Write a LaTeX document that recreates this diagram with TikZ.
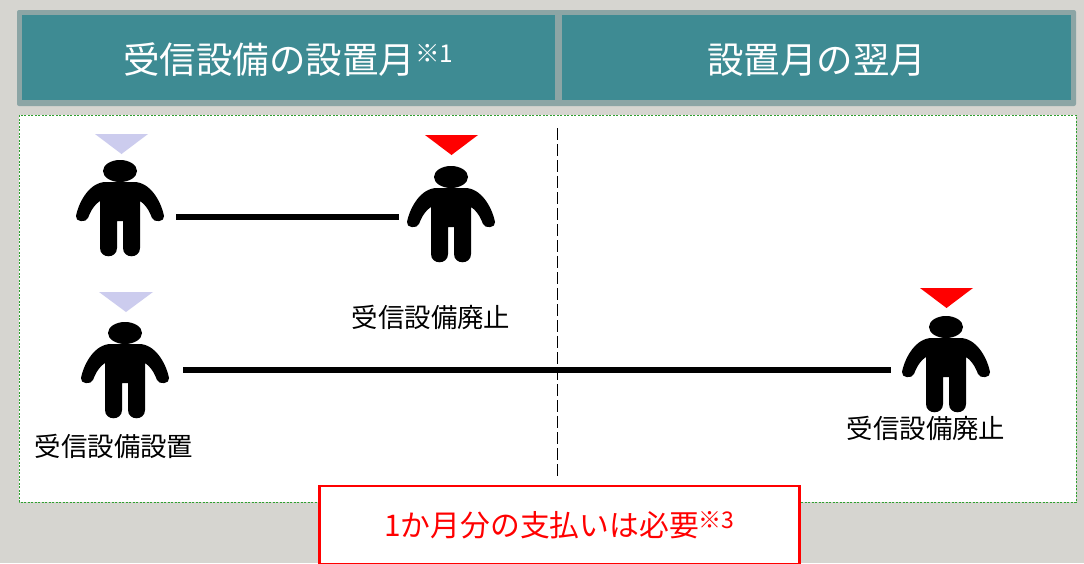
\documentclass[tikz,border=0pt]{standalone}
\usepackage{fontspec}
\setmainfont{Noto Sans CJK JP}
\definecolor{bgc}{HTML}{D6D5D0}
\definecolor{frame}{HTML}{8CA5A5}
\definecolor{tealc}{HTML}{3E8B93}
\definecolor{lav}{HTML}{CCCCEE}
\definecolor{greenc}{HTML}{2FA02F}
\newcommand{\fs}[1]{\fontsize{#1}{#1}\selectfont}
\tikzset{
  x=1pt,y=-1pt,
  headtext/.style={inner sep=0pt,text=white,font=\fs{36.5}},
  lbl/.style={inner sep=0pt,text=black,font=\fs{26.4}},
  anchorbox/.style={inner sep=0pt,minimum height=4pt,draw=none},
  link/.style={draw=black,line width=6pt},
  person/.pic={
    \fill[black] (0,0) ellipse[x radius=17,y radius=11];
    \fill[black] (-14,11) -- (14,11)
      .. controls (30,11) and (41,30) .. (44,45)
      .. controls (45,51) and (34,52) .. (32,47)
      .. controls (29,39) and (25,33) .. (20,30)
      -- (20,77) .. controls (20,88) and (3,88) .. (3,77)
      -- (3,50) -- (-3,50)
      -- (-3,77) .. controls (-3,88) and (-20,88) .. (-20,77)
      -- (-20,30)
      .. controls (-25,33) and (-29,39) .. (-32,47)
      .. controls (-34,52) and (-45,51) .. (-44,45)
      .. controls (-41,30) and (-30,11) .. (-14,11) -- cycle;
  }
}
\begin{document}
\begin{tikzpicture}
\useasboundingbox (0,0) rectangle (1084,563);
\fill[bgc] (0,0) rectangle (1084,563);
% header
\fill[frame,rounded corners=2pt] (17,10) rectangle (1076,106);
\fill[tealc] (22,15) rectangle (555,100);
\fill[tealc] (562,15) rectangle (1071,100);
\node[headtext] (c1) at (288.5,60) {受信設備の設置月\raisebox{11pt}{\fs{24.5}※1}};
\node[headtext] (c2) at (816.5,60) {設置月の翌月};
% panel
\draw[fill=white,draw=greenc,line width=0.8pt,dash pattern=on 2pt off 1.5pt] (19,115) rectangle (1076,502);
% divider
\coordinate (dt) at (557.5,128);
\coordinate (db) at (557.5,478);
\draw[black,line width=1.4pt,dash pattern=on 12pt off 4pt] (dt) -- (db);
% people
\pic at (120,171) {person};
\pic at (451,177) {person};
\pic at (125,333) {person};
\pic at (946,327) {person};
% markers
\fill[lav] (95,134) -- (148,134) -- (121.5,154) -- cycle;
\fill[red] (425,135) -- (478,135) -- (451.5,155) -- cycle;
\fill[lav] (99,292) -- (153,292) -- (126,312) -- cycle;
\fill[red] (920,288) -- (973,288) -- (946.5,308) -- cycle;
% invisible anchors around the people
\node[anchorbox,minimum width=112pt] (p1) at (120,217) {};
\node[anchorbox,minimum width=104pt] (p2) at (451,217) {};
\node[anchorbox,minimum width=116pt] (p3) at (125,369.5) {};
\node[anchorbox,minimum width=110pt] (p4) at (946,369.5) {};
\draw[link] (p1.east) -- (p2.west);
\draw[link] (p3.east) -- (p4.west);
% labels
\node[lbl] (l1) at (431,317.5) {受信設備廃止};
\node[lbl] (l2) at (114,446.5) {受信設備設置};
\node[lbl] (l3) at (926,428.5) {受信設備廃止};
% note
\node[draw=red,fill=white,line width=2.5pt,text=red,inner sep=0pt,minimum width=480pt,minimum height=78pt,font=\fs{29.8}] (note) at (559.5,525) {1か月分の支払いは必要\raisebox{8pt}{\fs{23}※3}};
\end{tikzpicture}
\end{document}
